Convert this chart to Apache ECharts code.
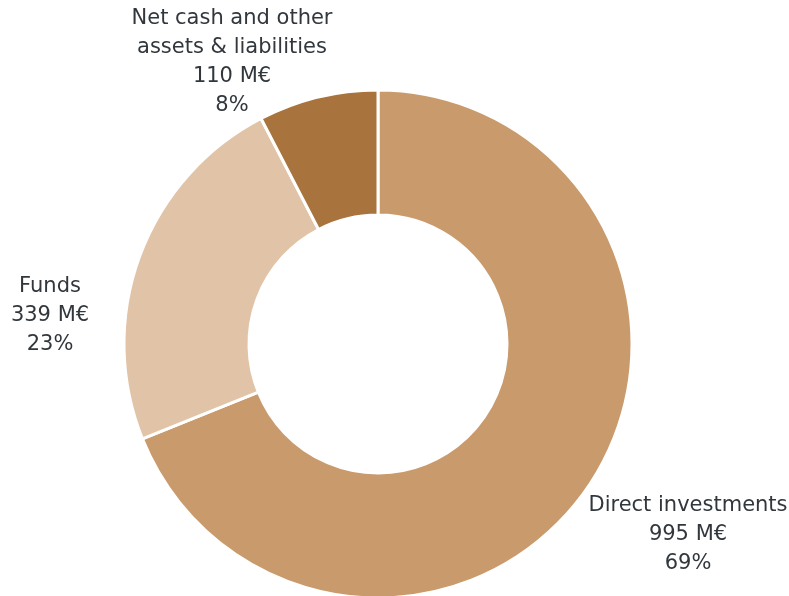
<!DOCTYPE html>
<html>
<head>
<meta charset="utf-8">
<script src="https://cdn.jsdelivr.net/npm/echarts@6/dist/echarts.min.js"></script>
<style>
html,body{margin:0;padding:0;background:#fff;}
#chart{width:789px;height:596px;}
</style>
</head>
<body>
<div id="chart"></div>
<script>
const categories = ['Direct investments', 'Funds', 'Net cash and other\nassets & liabilities'];
const valuesME = [995, 339, 110];
const percents = ['69%', '23%', '8%'];
const colors = ['#C99A6B', '#E1C4A7', '#A8733C'];
const labelPos = [[688, 535], [50, 316], [232, 62]];

const chart = echarts.init(document.getElementById('chart'), null, {renderer: 'canvas'});
chart.setOption({
  animation: false,
  backgroundColor: '#ffffff',
  series: [{
    type: 'pie',
    center: [378, 344],
    radius: [129, 254],
    startAngle: 90,
    clockwise: true,
    data: categories.map((c, i) => ({
      name: c, value: valuesME[i],
      itemStyle: {color: colors[i]}
    })),
    itemStyle: {borderColor: '#ffffff', borderWidth: 3},
    label: {
      show: true,
      position: 'outside',
      formatter: p => p.name + '\n' + valuesME[p.dataIndex] + ' M€\n' + percents[p.dataIndex],
      color: '#31373C',
      fontFamily: 'DejaVu Sans',
      fontSize: 21,
      lineHeight: 29,
      align: 'center',
      overflow: 'none',
      width: 300
    },
    labelLine: {show: false},
    labelLayout: params => ({
      x: labelPos[params.dataIndex][0],
      y: labelPos[params.dataIndex][1],
      align: 'center',
      verticalAlign: 'middle'
    }),
    emphasis: {disabled: true}
  }]
});
</script>
</body>
</html>
